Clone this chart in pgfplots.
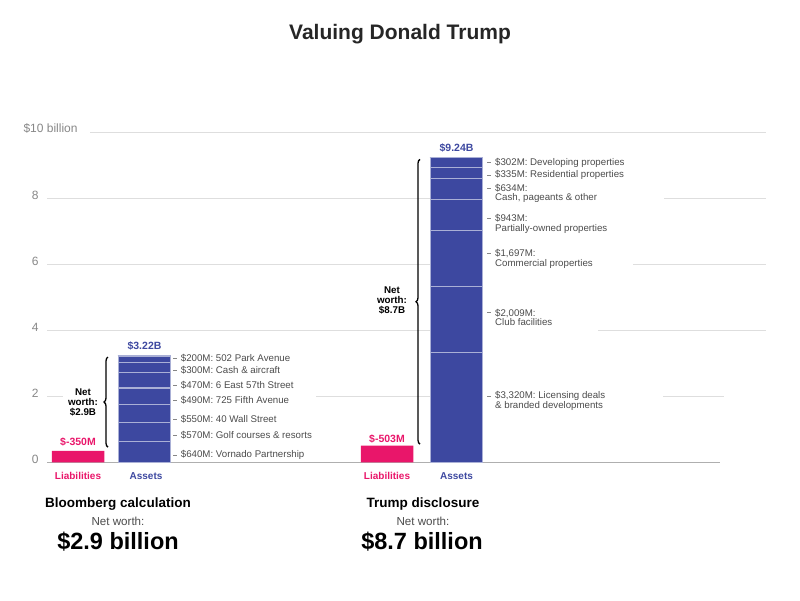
\documentclass[border=0pt]{standalone}
\usepackage{pgfplots}
\pgfplotsset{compat=1.18}
\usetikzlibrary{decorations.pathreplacing}
\usepackage{fontspec}
\setmainfont{Liberation Sans}
\definecolor{assetblue}{RGB}{61,72,160}
\definecolor{liabpink}{RGB}{233,22,106}
\definecolor{lblgray}{RGB}{75,75,75}
\definecolor{tickgray}{RGB}{135,135,135}
\definecolor{gridgray}{RGB}{222,222,222}
\definecolor{axisgray}{RGB}{175,175,175}
\definecolor{sepcol}{RGB}{170,176,214}
\tikzset{lbl/.style={anchor=west, font=\fontsize{9.7}{9.8}\selectfont, text=lblgray, align=left, inner sep=0pt},
  sdash/.style={tickgray, line width=0.6pt}}
\begin{document}
\begin{tikzpicture}
\path[use as bounding box] (0,0) rectangle (800pt,600pt);
\pgfplotsset{base/.style={at={(47pt,137.7pt)}, anchor=south west, scale only axis,
  width=719pt, height=330pt, xmin=47, xmax=766, ymin=0, ymax=10, clip=false}}
\begin{axis}[base, axis line style={draw=none}, xtick=\empty,
  ytick={0,2,4,6,8}, yticklabels={0,2,4,6,8}, major tick length=0pt,
  yticklabel style={font=\fontsize{12}{12}\selectfont, text=tickgray, xshift=-5pt, yshift=3pt}]
% grid segments
\draw[gridgray, line width=1.3pt] (axis cs:90,10) -- (axis cs:766,10);
\draw[gridgray, line width=1.3pt] (axis cs:47,8) -- (axis cs:430,8);
\draw[gridgray, line width=1.3pt] (axis cs:664,8) -- (axis cs:766,8);
\draw[gridgray, line width=1.3pt] (axis cs:47,6) -- (axis cs:430,6);
\draw[gridgray, line width=1.3pt] (axis cs:633,6) -- (axis cs:766,6);
\draw[gridgray, line width=1.3pt] (axis cs:47,4) -- (axis cs:430,4);
\draw[gridgray, line width=1.3pt] (axis cs:598,4) -- (axis cs:766,4);
\draw[gridgray, line width=1.3pt] (axis cs:47,2) -- (axis cs:63,2);
\draw[gridgray, line width=1.3pt] (axis cs:316,2) -- (axis cs:430,2);
\draw[gridgray, line width=1.3pt] (axis cs:663,2) -- (axis cs:724,2);
\draw[axisgray, line width=1.5pt] (axis cs:47,0) -- (axis cs:720,0);
\node[anchor=west, font=\fontsize{12}{12}\selectfont, text=tickgray] at (axis cs:20,10.12) {\$10 billion};
% liabilities
\addplot[ybar, bar width=52.5, bar shift=0pt, fill=liabpink, draw=none] coordinates {(78,0.35) (387,0.503)};
\end{axis}
\begin{axis}[base, hide axis, ybar stacked, bar width=52.5]
\addplot[fill=assetblue, draw=sepcol, line width=1.2pt] coordinates {(144.5,0.640) (456.5,3.320)};
\addplot[fill=assetblue, draw=sepcol, line width=1.2pt] coordinates {(144.5,0.570) (456.5,2.009)};
\addplot[fill=assetblue, draw=sepcol, line width=1.2pt] coordinates {(144.5,0.550) (456.5,1.697)};
\addplot[fill=assetblue, draw=sepcol, line width=1.2pt] coordinates {(144.5,0.490) (456.5,0.943)};
\addplot[fill=assetblue, draw=sepcol, line width=1.2pt] coordinates {(144.5,0.470) (456.5,0.634)};
\addplot[fill=assetblue, draw=sepcol, line width=1.2pt] coordinates {(144.5,0.300) (456.5,0.335)};
\addplot[fill=assetblue, draw=sepcol, line width=1.2pt] coordinates {(144.5,0.200) (456.5,0.302)};
% cover outer edges so only separators stay light
\draw[assetblue, line width=1.3pt] (axis cs:118.25,0) -- (axis cs:118.25,3.22);
\draw[assetblue, line width=1.3pt] (axis cs:170.75,0) -- (axis cs:170.75,3.22);
\draw[assetblue, line width=1.3pt] (axis cs:430.25,0) -- (axis cs:430.25,9.24);
\draw[assetblue, line width=1.3pt] (axis cs:482.75,0) -- (axis cs:482.75,9.24);
\draw[assetblue, line width=1.3pt] (axis cs:117.6,3.22) -- (axis cs:171.4,3.22);
\draw[assetblue, line width=1.3pt] (axis cs:429.6,9.24) -- (axis cs:483.4,9.24);
% Bloomberg segment labels
\draw[sdash] (axis cs:173,3.15) -- (axis cs:177,3.15);
\node[lbl] at (axis cs:180.7,3.15) {\$200M: 502 Park Avenue};
\draw[sdash] (axis cs:173,2.80) -- (axis cs:177,2.80);
\node[lbl] at (axis cs:180.7,2.80) {\$300M: Cash \& aircraft};
\draw[sdash] (axis cs:173,2.32) -- (axis cs:177,2.32);
\node[lbl] at (axis cs:180.7,2.32) {\$470M: 6 East 57th Street};
\draw[sdash] (axis cs:173,1.88) -- (axis cs:177,1.88);
\node[lbl] at (axis cs:180.7,1.88) {\$490M: 725 Fifth Avenue};
\draw[sdash] (axis cs:173,1.31) -- (axis cs:177,1.31);
\node[lbl] at (axis cs:180.7,1.31) {\$550M: 40 Wall Street};
\draw[sdash] (axis cs:173,0.82) -- (axis cs:177,0.82);
\node[lbl] at (axis cs:180.7,0.82) {\$570M: Golf courses \& resorts};
\draw[sdash] (axis cs:173,0.22) -- (axis cs:177,0.22);
\node[lbl] at (axis cs:180.7,0.22) {\$640M: Vornado Partnership};
% Trump segment labels
\draw[sdash] (axis cs:487,9.08) -- (axis cs:491,9.08);
\node[lbl] at (axis cs:495,9.08) {\$302M: Developing properties};
\draw[sdash] (axis cs:487,8.70) -- (axis cs:491,8.70);
\node[lbl] at (axis cs:495,8.70) {\$335M: Residential properties};
\draw[sdash] (axis cs:487,8.30) -- (axis cs:491,8.30);
\node[lbl] at (axis cs:495,8.15) {\$634M:\\Cash, pageants \& other};
\draw[sdash] (axis cs:487,7.38) -- (axis cs:491,7.38);
\node[lbl] at (axis cs:495,7.23) {\$943M:\\Partially-owned properties};
\draw[sdash] (axis cs:487,6.32) -- (axis cs:491,6.32);
\node[lbl] at (axis cs:495,6.17) {\$1,697M:\\Commercial properties};
\draw[sdash] (axis cs:487,4.54) -- (axis cs:491,4.54);
\node[lbl] at (axis cs:495,4.39) {\$2,009M:\\Club facilities};
\draw[sdash] (axis cs:487,2.01) -- (axis cs:491,2.01);
\node[lbl] at (axis cs:495,1.86) {\$3,320M: Licensing deals\\\& branded developments};
% value labels
\node[font=\bfseries\fontsize{10.5}{10.5}\selectfont, text=assetblue] at (axis cs:144.5,3.53) {\$3.22B};
\node[font=\bfseries\fontsize{10.5}{10.5}\selectfont, text=assetblue] at (axis cs:456.5,9.52) {\$9.24B};
\node[font=\bfseries\fontsize{10.5}{10.5}\selectfont, text=liabpink] at (axis cs:78,0.62) {\$-350M};
\node[font=\bfseries\fontsize{10.5}{10.5}\selectfont, text=liabpink] at (axis cs:387,0.72) {\$-503M};
% net worth braces
\draw[decorate, decoration={brace, amplitude=4pt}, line width=1.3pt] (axis cs:108,0.46) -- (axis cs:108,3.19);
\draw[decorate, decoration={brace, amplitude=4pt}, line width=1.3pt] (axis cs:420,0.55) -- (axis cs:420,9.18);
\node[align=center, font=\bfseries\fontsize{9.8}{10}\selectfont] at (axis cs:83,1.80) {Net\\worth:\\\$2.9B};
\node[align=center, font=\bfseries\fontsize{9.8}{10}\selectfont] at (axis cs:392,4.89) {Net\\worth:\\\$8.7B};
% category labels
\node[font=\bfseries\fontsize{10}{10}\selectfont, text=liabpink] at (axis cs:78,-0.415) {Liabilities};
\node[font=\bfseries\fontsize{10}{10}\selectfont, text=assetblue] at (axis cs:146,-0.415) {Assets};
\node[font=\bfseries\fontsize{10}{10}\selectfont, text=liabpink] at (axis cs:387,-0.415) {Liabilities};
\node[font=\bfseries\fontsize{10}{10}\selectfont, text=assetblue] at (axis cs:456.5,-0.415) {Assets};
% group captions
\node[font=\bfseries\fontsize{13.5}{13.5}\selectfont] at (axis cs:118,-1.264) {Bloomberg calculation};
\node[font=\fontsize{11.6}{11.6}\selectfont, text=lblgray] at (axis cs:118,-1.779) {Net worth:};
\node[font=\bfseries\fontsize{23.5}{23.5}\selectfont] at (axis cs:118,-2.406) {\$2.9 billion};
\node[font=\bfseries\fontsize{13.5}{13.5}\selectfont] at (axis cs:423,-1.264) {Trump disclosure};
\node[font=\fontsize{11.6}{11.6}\selectfont, text=lblgray] at (axis cs:423,-1.779) {Net worth:};
\node[font=\bfseries\fontsize{23.5}{23.5}\selectfont] at (axis cs:422,-2.406) {\$8.7 billion};
% title
\node[font=\bfseries\fontsize{21}{21}\selectfont, text=black!85] at (axis cs:400,12.98) {Valuing Donald Trump};
\end{axis}
\end{tikzpicture}
\end{document}
